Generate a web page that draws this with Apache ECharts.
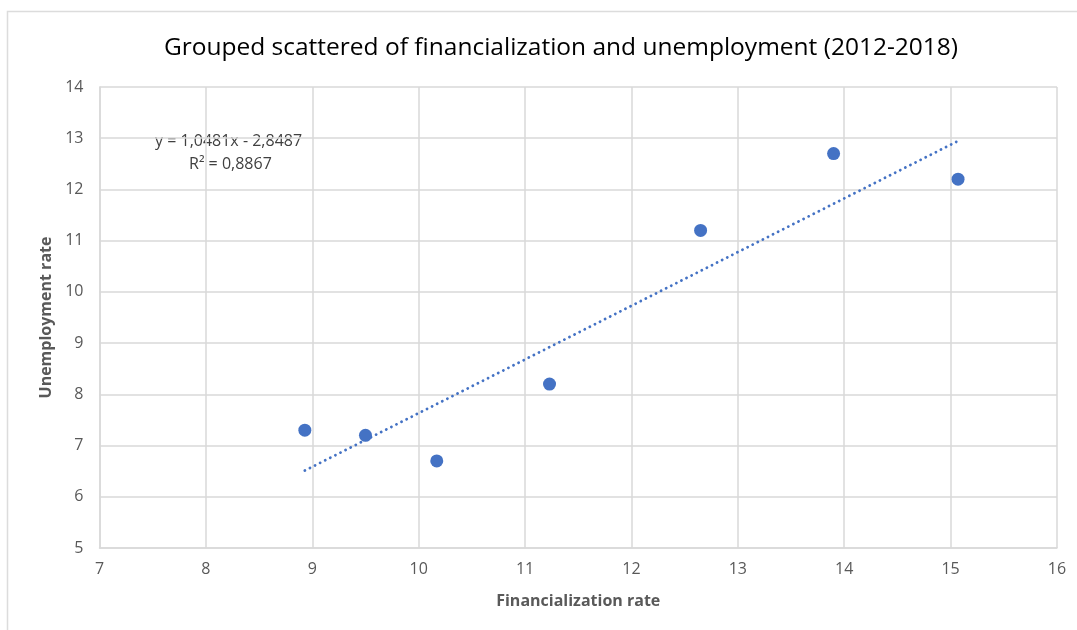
<!DOCTYPE html>
<html>
<head>
<meta charset="utf-8">
<script src="https://cdn.jsdelivr.net/npm/echarts@6/dist/echarts.min.js"></script>
<style>
  html, body { margin: 0; padding: 0; background: #fff; }
  #chart { width: 1077px; height: 630px; }
</style>
</head>
<body>
<div id="chart"></div>
<script>
// Financialization rate vs unemployment rate, grouped 2012-2018
const financialization = [8.93, 9.50, 10.17, 11.23, 12.65, 13.90, 15.07];
const unemployment = [7.3, 7.2, 6.7, 8.2, 11.2, 12.7, 12.2];

// Linear trendline coefficients (as printed on the chart)
const slope = 1.0481;
const intercept = -2.8487;
const rSquared = 0.8867;

const xTicks = { min: 7, max: 16, interval: 1 };
const yTicks = { min: 5, max: 14, interval: 1 };

const fmt = v => v.toFixed(4).replace('.', ',');

const points = financialization.map((x, i) => [x, unemployment[i]]);
const xLo = Math.min(...financialization);
const xHi = Math.max(...financialization);
const trend = [[xLo, slope * xLo + intercept], [xHi, slope * xHi + intercept]];

const gray = '#d9d9d9';
const textGray = '#595959';
const font = '"Open Sans", sans-serif';

const chart = echarts.init(document.getElementById('chart'), null, { renderer: 'canvas' });
chart.setOption({
  animation: false,
  backgroundColor: '#fff',
  title: {
    text: 'Grouped scattered of financialization and unemployment (2012-2018)',
    left: 556, top: 31, textAlign: 'center',
    textStyle: { fontFamily: font, fontSize: 24.5, fontWeight: 'normal', color: '#000' }
  },
  grid: { left: 99.5, right: 20, top: 87, bottom: 82 },
  xAxis: {
    type: 'value', min: xTicks.min, max: xTicks.max, interval: xTicks.interval,
    name: 'Financialization rate', nameLocation: 'middle', nameGap: 45,
    nameTextStyle: { fontFamily: font, fontSize: 16, fontWeight: 'bold', color: textGray },
    axisLine: { show: true, lineStyle: { color: gray, width: 1.5 } },
    axisTick: { show: false },
    axisLabel: { fontFamily: font, fontSize: 16, color: textGray, margin: 13 },
    splitLine: { show: true, lineStyle: { color: gray, width: 1.5 } }
  },
  yAxis: {
    type: 'value', min: yTicks.min, max: yTicks.max, interval: yTicks.interval,
    name: 'Unemployment rate', nameLocation: 'middle', nameGap: 44, nameRotate: 90,
    nameTextStyle: { fontFamily: font, fontSize: 16, fontWeight: 'bold', color: textGray },
    axisLine: { show: true, lineStyle: { color: gray, width: 1.5 } },
    axisTick: { show: false },
    axisLabel: { fontFamily: font, fontSize: 16, color: textGray, margin: 16 },
    splitLine: { show: true, lineStyle: { color: gray, width: 1.5 } }
  },
  series: [
    {
      type: 'line', data: trend, showSymbol: false, symbol: 'none',
      lineStyle: { color: '#4472C4', width: 2.8, type: [0.1, 5.6], cap: 'round', opacity: 1 },
      z: 2
    },
    {
      type: 'scatter', data: points, symbol: 'circle', symbolSize: 13,
      itemStyle: { color: '#4472C4', opacity: 1 }, z: 3
    }
  ],
  graphic: [
    {
      type: 'rect', shape: { x: 7.5, y: 11.5, width: 1200, height: 700 },
      style: { fill: 'none', stroke: '#dcdcdc', lineWidth: 1.5 }, silent: true
    },
    {
      type: 'text', left: 155, top: 133,
      style: { text: 'y = ' + fmt(slope) + 'x - ' + fmt(-intercept), fontFamily: font, fontSize: 16, fill: '#404040' }
    },
    {
      type: 'text', left: 189, top: 156,
      style: { text: 'R² = ' + fmt(rSquared), fontFamily: font, fontSize: 16, fill: '#404040' }
    }
  ]
});
</script>
</body>
</html>
